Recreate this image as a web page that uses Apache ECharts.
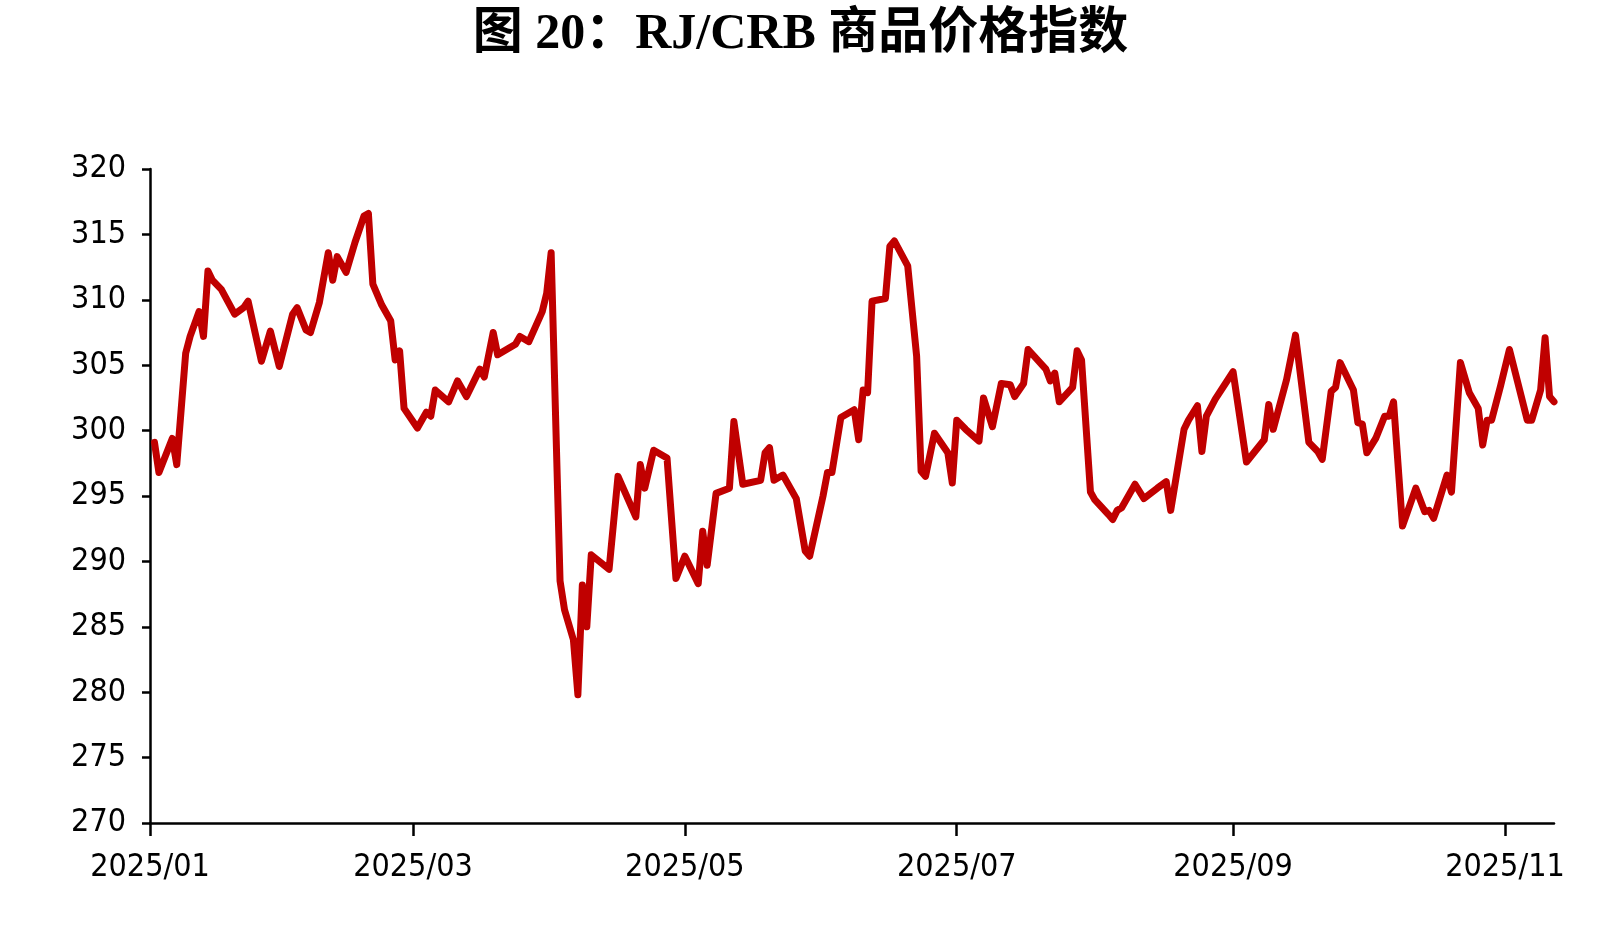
<!DOCTYPE html>
<html>
<head>
<meta charset="utf-8">
<title>RJ/CRB 商品价格指数</title>
<script src="https://cdn.jsdelivr.net/npm/echarts@6/dist/echarts.min.js"></script>
<style>
  html, body { margin: 0; padding: 0; background: #fff; }
  #main { width: 1601px; height: 925px; }
</style>
</head>
<body>
<div id="main"></div>
<script>
// 日期
var dates = [
  '2025-01-02','2025-01-03','2025-01-06','2025-01-07','2025-01-09','2025-01-10','2025-01-12','2025-01-13','2025-01-14','2025-01-15',
  '2025-01-17','2025-01-20','2025-01-22','2025-01-23','2025-01-26','2025-01-28','2025-01-30',
  '2025-02-02','2025-02-03','2025-02-05','2025-02-06','2025-02-08','2025-02-10','2025-02-11','2025-02-12','2025-02-14','2025-02-16',
  '2025-02-18','2025-02-19','2025-02-20','2025-02-22','2025-02-24','2025-02-25','2025-02-26','2025-02-27',
  '2025-03-02','2025-03-04','2025-03-05','2025-03-06','2025-03-09','2025-03-11','2025-03-13','2025-03-16','2025-03-17','2025-03-19',
  '2025-03-20','2025-03-24','2025-03-25','2025-03-27','2025-03-30','2025-03-31',
  '2025-04-01','2025-04-03','2025-04-04','2025-04-06','2025-04-07','2025-04-08','2025-04-09','2025-04-10','2025-04-14','2025-04-16',
  '2025-04-20','2025-04-21','2025-04-22','2025-04-24','2025-04-27','2025-04-29',
  '2025-05-01','2025-05-04','2025-05-05','2025-05-06','2025-05-08','2025-05-11','2025-05-12','2025-05-14','2025-05-18','2025-05-19',
  '2025-05-20','2025-05-21','2025-05-23','2025-05-26','2025-05-28','2025-05-29',
  '2025-06-01','2025-06-02','2025-06-03','2025-06-05','2025-06-08','2025-06-09','2025-06-10','2025-06-11','2025-06-12','2025-06-15',
  '2025-06-16','2025-06-17','2025-06-20','2025-06-22','2025-06-23','2025-06-24','2025-06-26','2025-06-29','2025-06-30',
  '2025-07-01','2025-07-03','2025-07-06','2025-07-07','2025-07-09','2025-07-11','2025-07-13','2025-07-14','2025-07-16','2025-07-17',
  '2025-07-21','2025-07-22','2025-07-23','2025-07-24','2025-07-27','2025-07-28','2025-07-29','2025-07-31',
  '2025-08-01','2025-08-04','2025-08-05','2025-08-06','2025-08-07','2025-08-10','2025-08-12','2025-08-15','2025-08-17','2025-08-18',
  '2025-08-21','2025-08-22','2025-08-24','2025-08-25','2025-08-26','2025-08-28',
  '2025-09-01','2025-09-04','2025-09-08','2025-09-09','2025-09-10','2025-09-13','2025-09-15','2025-09-18','2025-09-20','2025-09-21',
  '2025-09-23','2025-09-24','2025-09-25','2025-09-28','2025-09-29','2025-09-30',
  '2025-10-01','2025-10-03','2025-10-05','2025-10-06','2025-10-07','2025-10-09','2025-10-12','2025-10-14','2025-10-15','2025-10-16',
  '2025-10-19','2025-10-20','2025-10-22','2025-10-24','2025-10-26','2025-10-27','2025-10-28','2025-10-29','2025-10-31',
  '2025-11-02','2025-11-06','2025-11-07','2025-11-09','2025-11-10','2025-11-11','2025-11-12'
];

// RJ/CRB 指数值
var values = [
  299.1,296.8,299.4,297.4,305.9,307.2,309.1,307.2,312.2,311.5,
  310.8,308.9,309.4,309.9,305.3,307.6,304.9,
  308.9,309.4,307.7,307.5,309.8,313.6,311.5,313.3,312.1,314.4,
  316.4,316.6,311.2,309.6,308.4,305.4,306.1,301.7,
  300.2,301.4,301.1,303.1,302.2,303.8,302.6,304.7,304.1,307.5,
  305.8,306.6,307.2,306.8,309.1,310.5,
  313.6,288.5,286.3,284.0,279.8,288.2,285.0,290.5,289.4,296.5,
  293.4,297.4,295.6,298.5,297.9,288.7,
  290.4,288.3,292.3,289.7,295.2,295.6,300.7,295.9,296.2,298.3,
  298.7,296.2,296.6,294.8,290.8,290.4,
  295.0,296.8,296.8,301.0,301.6,299.3,303.1,302.9,309.9,310.1,
  314.1,314.5,312.6,305.7,296.9,296.5,299.8,298.3,296.0,
  300.8,300.1,299.2,302.5,300.3,303.6,303.5,302.6,303.6,306.2,
  304.7,303.8,304.4,302.2,303.3,306.1,305.4,295.3,
  294.7,293.6,293.2,293.9,294.1,295.9,294.8,295.6,296.1,293.9,
  300.1,300.8,301.9,298.4,301.1,302.4,
  304.5,297.6,299.3,302.0,300.1,303.9,307.3,299.1,298.4,297.8,
  303.0,303.3,305.2,303.1,300.6,300.5,
  298.3,299.4,301.1,301.1,302.2,292.7,295.6,293.8,293.9,293.3,
  296.6,295.3,305.2,302.9,301.7,298.9,300.8,300.8,303.4,
  306.2,300.8,300.8,303.1,307.1,302.6,302.2
];

// x轴刻度（每两个月）
var monthTicks = ['2025-01-01','2025-03-01','2025-05-01','2025-07-01','2025-09-01','2025-11-01'];

var labelFont = "'Liberation Sans Narrow', 'DejaVu Sans Condensed', 'Liberation Sans', sans-serif";

function toTime(d) {
  var p = d.split('-');
  return Date.UTC(+p[0], +p[1] - 1, +p[2]);
}

var tickValues = monthTicks.map(toTime);
var seriesData = dates.map(function (d, i) { return [toTime(d), values[i]]; });

var myChart = echarts.init(document.getElementById('main'));
var option = {
  backgroundColor: '#fff',
  animation: false,
  title: {
    text: '图 20：RJ/CRB 商品价格指数',
    left: 'center',
    top: 5,
    textStyle: {
      fontFamily: "'Liberation Serif', 'Noto Sans CJK SC', serif",
      fontWeight: 'bold',
      fontSize: 50,
      color: '#000'
    }
  },
  grid: {
    left: 150,
    right: 47,
    top: 169,
    bottom: 102
  },
  xAxis: {
    type: 'value',
    min: toTime('2025-01-01'),
    max: toTime('2025-11-12'),
    axisLine: { lineStyle: { color: '#000', width: 2.5 } },
    axisTick: {
      show: true,
      length: 13,
      customValues: tickValues,
      lineStyle: { color: '#000', width: 2.5 }
    },
    axisLabel: {
      customValues: tickValues,
      margin: 29,
      fontSize: 32,
      fontFamily: labelFont,
      color: '#000',
      formatter: function (val) {
        var d = new Date(val);
        var m = d.getUTCMonth() + 1;
        return d.getUTCFullYear() + '/' + (m < 10 ? '0' + m : m);
      }
    },
    splitLine: { show: false }
  },
  yAxis: {
    type: 'value',
    min: 270,
    max: 320,
    interval: 5,
    axisLine: { show: true, lineStyle: { color: '#000', width: 2.5 } },
    axisTick: { show: true, length: 8, lineStyle: { color: '#000', width: 2.5 } },
    axisLabel: {
      margin: 24,
      fontSize: 32,
      fontFamily: labelFont,
      color: '#000'
    },
    splitLine: { show: false }
  },
  series: [{
    type: 'line',
    data: seriesData,
    showSymbol: false,
    lineStyle: { color: '#C00000', width: 7, join: 'round', cap: 'round' }
  }]
};
myChart.setOption(option);
</script>
</body>
</html>
